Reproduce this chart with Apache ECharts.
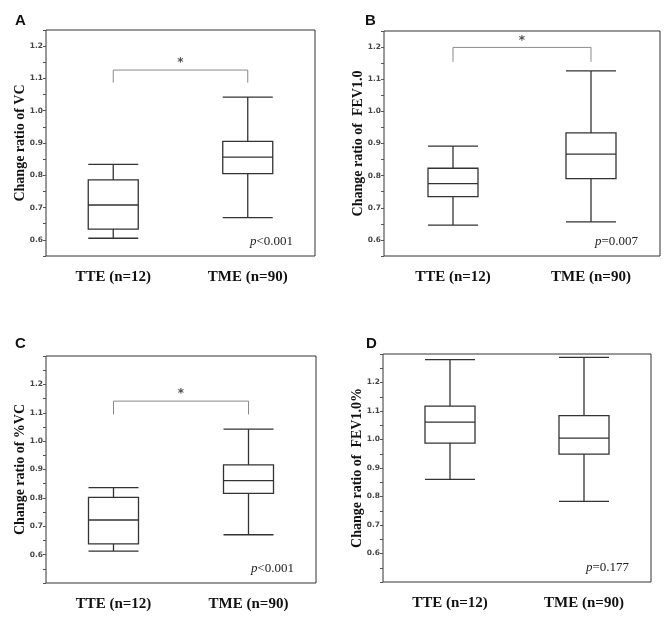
<!DOCTYPE html>
<html>
<head>
<meta charset="utf-8">
<script src="https://cdn.jsdelivr.net/npm/echarts@6/dist/echarts.min.js"></script>
<style>html,body{margin:0;padding:0;background:#fff;}#c{width:669px;height:618px;}</style>
</head>
<body>
<div id="c"></div>
<script>
// ---- data ----
const categories = ['TTE (n=12)', 'TME (n=90)'];
// [min, Q1, median, Q3, max]
const vcBoxes      = [[0.605, 0.633, 0.708, 0.786, 0.834], [0.669, 0.805, 0.856, 0.905, 1.042]];
const fev1Boxes    = [[0.646, 0.735, 0.775, 0.823, 0.892], [0.656, 0.791, 0.867, 0.933, 1.126]];
const pctVcBoxes   = [[0.612, 0.638, 0.722, 0.802, 0.836], [0.670, 0.816, 0.861, 0.916, 1.042]];
const fev1PctBoxes = [[0.860, 0.987, 1.061, 1.117, 1.280], [0.783, 0.949, 1.005, 1.084, 1.288]];
const yTickLabels = ['0.6', '0.7', '0.8', '0.9', '1.0', '1.1', '1.2'];
const panelLetters = ['A', 'B', 'C', 'D'];
const yTitles = ['Change ratio of VC', 'Change ratio of  FEV1.0', 'Change ratio of %VC', 'Change ratio of  FEV1.0%'];
const pTexts = [['<', '0.001'], ['=', '0.007'], ['<', '0.001'], ['=', '0.177']];
// significance brackets: [foot, top] or null
const brackets = [[1.087, 1.126], [1.154, 1.199], [1.094, 1.141], null];
const yRanges = [[0.55, 1.25], [0.55, 1.25], [0.5, 1.3], [0.5, 1.3]];

const allBoxes = [vcBoxes, fev1Boxes, pctVcBoxes, fev1PctBoxes];

// ---- layout ----
const grids = [
  {left: 46, top: 30, width: 269, height: 226},
  {left: 384, top: 31, width: 276, height: 225},
  {left: 46, top: 356, width: 270, height: 227},
  {left: 383, top: 354, width: 268, height: 228}
];
const letterPos = [[15, 13], [365, 13], [15, 336], [366, 336]];
const serif = 'Liberation Serif';

const option = {
  animation: false,
  backgroundColor: '#fff',
  grid: grids.map(g => Object.assign({show: true, borderColor: '#333', borderWidth: 1, backgroundColor: 'transparent'}, g)),
  xAxis: [],
  yAxis: [],
  series: [],
  graphic: []
};

for (let i = 0; i < 4; i++) {
  // category axis
  option.xAxis.push({
    type: 'category', gridIndex: i, data: categories,
    axisLine: {show: false, onZero: false}, axisTick: {show: false},
    axisLabel: {margin: 14, fontFamily: serif, fontWeight: 'bold', fontSize: 15, color: '#111'}
  });
  // hidden value axis for annotations
  option.xAxis.push({type: 'value', gridIndex: i, min: -0.5, max: 1.5, show: false, axisLine: {onZero: false}});
  option.yAxis.push({
    type: 'value', gridIndex: i, min: yRanges[i][0], max: yRanges[i][1], interval: 0.05,
    position: 'left',
    name: yTitles[i], nameLocation: 'middle', nameGap: 19, nameMoveOverlap: false,
    nameTextStyle: {fontFamily: serif, fontWeight: 'bold', fontSize: 14, color: '#111'},
    axisLine: {show: false, onZero: false},
    axisTick: {show: true, length: 3, lineStyle: {color: '#555'}},
    splitLine: {show: false},
    axisLabel: {
      margin: 3, fontFamily: 'DejaVu Sans', fontSize: 7.5, fontWeight: 'bold', color: '#444',
      formatter: v => {
        const s = (Math.round(v * 100) / 100).toFixed(1);
        return (Math.round(v * 100) % 10 === 0 && yTickLabels.indexOf(s) >= 0) ? s : '';
      }
    }
  });
  option.series.push({
    type: 'boxplot', xAxisIndex: 2 * i, yAxisIndex: i,
    data: allBoxes[i], boxWidth: [50, 50],
    itemStyle: {color: '#fff', borderColor: '#333', borderWidth: 1.3}
  });
  if (brackets[i]) {
    const [foot, top] = brackets[i];
    option.series.push({
      type: 'line', xAxisIndex: 2 * i + 1, yAxisIndex: i, symbol: 'none', silent: true,
      lineStyle: {color: '#8a8a8a', width: 1},
      data: [[0, foot], [0, top], [1, top], [1, foot]]
    });
    option.series.push({
      type: 'scatter', xAxisIndex: 2 * i + 1, yAxisIndex: i, symbolSize: 0, silent: true,
      data: [[0.5, top]],
      label: {show: true, position: 'top', distance: 1, formatter: '*', fontFamily: 'DejaVu Sans', fontWeight: 'bold', fontSize: 12, color: '#222'}
    });
  }
  const g = grids[i];
  option.graphic.push({
    type: 'text', left: letterPos[i][0], top: letterPos[i][1],
    style: {text: panelLetters[i], font: 'bold 15px "Liberation Sans"', fill: '#111'}
  });
  option.graphic.push({
    type: 'text', right: 669 - (g.left + g.width) + 22, top: g.top + g.height - 21,
    style: {
      text: '{i|p}{n|' + pTexts[i][0] + pTexts[i][1] + '}',
      rich: {
        i: {fontFamily: serif, fontStyle: 'italic', fontSize: 13, fill: '#222', color: '#222'},
        n: {fontFamily: serif, fontSize: 13, fill: '#222', color: '#222'}
      }
    }
  });
}

const chart = echarts.init(document.getElementById('c'), null, {renderer: 'canvas'});
chart.setOption(option);
</script>
</body>
</html>
